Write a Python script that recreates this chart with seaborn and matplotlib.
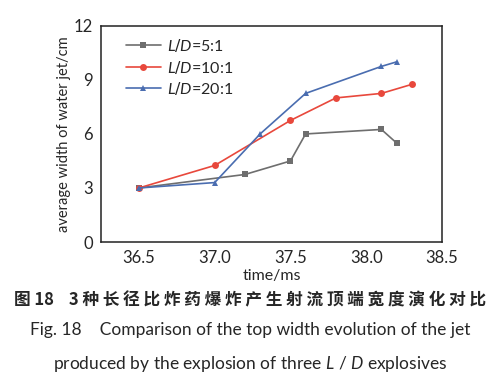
import numpy as np
import pandas as pd
import matplotlib
matplotlib.use("Agg")
import matplotlib.pyplot as plt
import seaborn as sns

# data
t_5 = [36.5, 37.2, 37.5, 37.6, 38.1, 38.2]
w_5 = [3.0, 3.75, 4.5, 6.0, 6.25, 5.5]
t_10 = [36.5, 37.0, 37.5, 37.8, 38.1, 38.3]
w_10 = [3.0, 4.25, 6.75, 8.0, 8.25, 8.75]
t_20 = [36.5, 37.0, 37.3, 37.6, 38.1, 38.2]
w_20 = [3.0, 3.3, 6.0, 8.25, 9.75, 10.0]
labels = ["$L/D$=5:1", "$L/D$=10:1", "$L/D$=20:1"]
xticks = [36.5, 37.0, 37.5, 38.0, 38.5]
yticks = [0, 3, 6, 9, 12]

df = pd.concat([
    pd.DataFrame({"t": t_5, "w": w_5, "case": labels[0]}),
    pd.DataFrame({"t": t_10, "w": w_10, "case": labels[1]}),
    pd.DataFrame({"t": t_20, "w": w_20, "case": labels[2]}),
], ignore_index=True)

sns.set_style("white")
plt.rcParams["font.family"] = ["Lato", "Noto Sans CJK SC", "DejaVu Sans"]
plt.rcParams["mathtext.fontset"] = "custom"
plt.rcParams["mathtext.it"] = "Lato:italic"

palette = {labels[0]: "#6e6e6e", labels[1]: "#e8483c", labels[2]: "#4a6db0"}
markers = {labels[0]: "s", labels[1]: "o", labels[2]: "^"}

fig = plt.figure(figsize=(5, 3.86), dpi=100)
ax = fig.add_axes([0.202, 0.373, 0.682, 0.56])

sns.lineplot(data=df, x="t", y="w", hue="case", style="case", palette=palette,
             markers=markers, dashes=False, markersize=5, linewidth=1.2,
             markeredgewidth=0, ax=ax)

ax.set_xlim(36.25, 38.5)
ax.set_ylim(0, 12)
ax.set_xticks(xticks)
ax.set_xticklabels([f"{v:.1f}" for v in xticks])
ax.set_yticks(yticks)
ax.tick_params(axis="x", direction="in", length=5, width=1, labelsize=12, pad=6)
ax.tick_params(axis="y", direction="out", length=4, width=1, labelsize=12, pad=2)
for s in ax.spines.values():
    s.set_linewidth(1.1)
    s.set_color("#222222")
ax.set_xlabel("time/ms", fontsize=11.5, labelpad=2)
ax.set_ylabel("average width of water jet/cm", fontsize=10.5, labelpad=2)

leg = ax.legend(loc="upper left", frameon=False, fontsize=11.5, handlelength=2.2,
                handletextpad=0.4, labelspacing=0.28, borderaxespad=0.3,
                bbox_to_anchor=(0.04, 1.0))

cn_title = " ".join("3种长径比炸药爆炸产生射流顶端宽度演化对比")
fig.text(0.5, 0.222, "图 18    " + cn_title, ha="center",
         va="center", fontsize=12, fontweight="bold",
         family=["Noto Sans CJK SC", "DejaVu Sans"])
fig.text(0.5, 0.145, "Fig. 18    Comparison of the top width evolution of the jet",
         ha="center", va="center", fontsize=12.5)
fig.text(0.5, 0.058, "produced by the explosion of three $L$ / $D$ explosives",
         ha="center", va="center", fontsize=12.5)

fig.savefig("out.png", dpi=100)
